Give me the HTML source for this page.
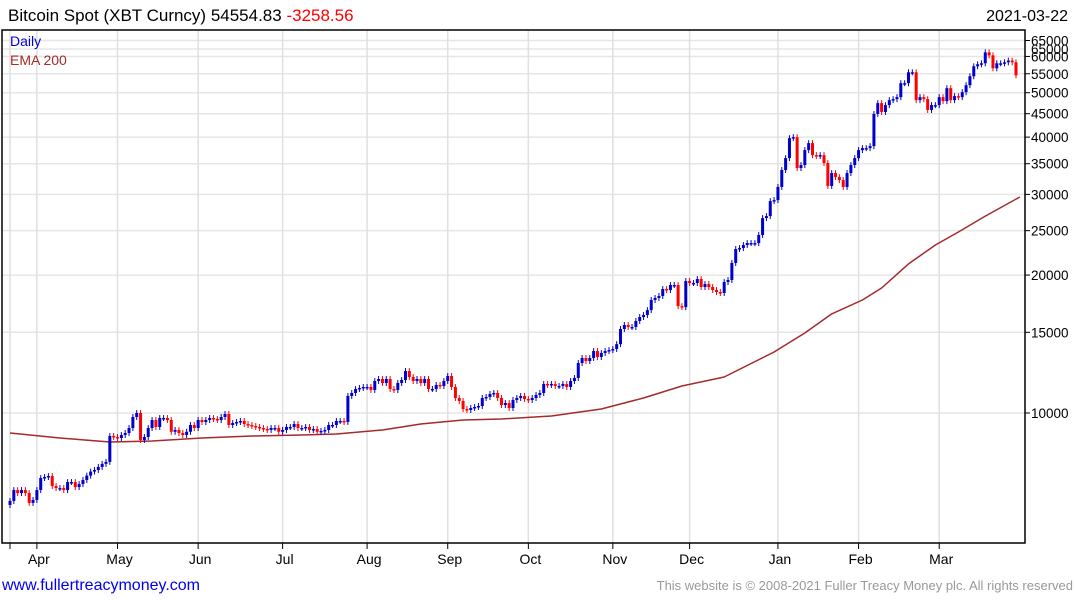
<!DOCTYPE html>
<html><head><meta charset="utf-8">
<style>
html,body{margin:0;padding:0;background:#fff;}
body{width:1075px;height:600px;overflow:hidden;position:relative;font-family:"Liberation Sans",sans-serif;}
svg{position:absolute;left:0;top:0;}
</style></head>
<body>
<svg id="chart" width="1075" height="600">
  <text x="8" y="21" font-size="17" fill="#000">Bitcoin Spot (XBT Curncy) 54554.83 <tspan fill="#ff0000">-3258.56</tspan></text>
  <text x="1068" y="21" font-size="16" fill="#000" text-anchor="end">2021-03-22</text>
  <g id="grid"></g>
  <g id="ema"></g>
  <g id="candles"></g>
  <rect x="2" y="30" width="1023" height="513" fill="none" stroke="#000" stroke-width="1.5"/>
  <g id="axes"></g>
  <text x="10" y="46" font-size="14" fill="#0000dd">Daily</text>
  <text x="10" y="65" font-size="14" fill="#a52a2a">EMA 200</text>
  <a><text x="2" y="590" font-size="16" fill="#0000ee">www.fullertreacymoney.com</text></a>
  <text x="1073" y="590" font-size="13" fill="#999" text-anchor="end">This website is © 2008-2021 Fuller Treacy Money plc. All rights reserved</text>
</svg>
<script>
const closes = [6428,6789,6688,6789,6688,6364,6461,6789,7213,7250,7286,6927,6858,6858,6789,7068,7068,6892,6997,7140,7300,7450,7509,7625,7744,7822,8910,8864,8820,8953,9043,9274,9801,10000,8730,8864,9274,9654,9321,9752,9752,9654,9100,9182,9043,8953,9100,9415,9274,9654,9558,9654,9752,9703,9654,9801,9950,9415,9510,9558,9606,9462,9415,
9368,9321,9274,9228,9182,9274,9274,9100,9182,9321,9321,9462,9274,9274,9321,9182,9228,9100,9140,9182,9415,9415,9606,9606,9560,10893,11058,11283,11340,11397,11397,11228,11745,11864,11628,11864,11283,11228,11628,11804,12348,11983,11745,11864,11628,11864,11283,11283,11512,11454,11745,12043,11397,10784,10622,10202,10152,10254,10306,10358,10784,10839,11003,11058,10784,10410,10515,10254,10676,10784,10893,10730,10676,10784,10948,11058,11570,11512,
11570,11454,11454,11570,11397,11745,11924,12855,13185,12984,13185,13654,13251,13518,13654,13723,13792,14136,15253,15562,15407,15407,15878,16200,16363,16771,17647,17825,18004,18646,18552,19026,19026,17110,17024,19411,19217,19217,19606,18835,19121,18835,18552,18368,18276,19314,19508,21257,22793,22908,23257,23491,23491,23491,24462,
26634,26902,29002,29148,31139,33906,35999,39799,39999,34248,34764,37475,38812,36544,36361,36544,35114,31296,33390,32727,32233,31139,33390,34764,35999,37475,37853,37853,38233,44943,47456,45397,46983,48174,48417,48904,52455,52455,55410,55410,48174,48904,48417,45854,46983,46983,48904,47933,51157,48174,49151,48904,50143,51932,54312,57104,57679,57969,61240,60325,56535,57969,57969,58261,58760,58261,54554];
const firstOpen = 6300;
const emaIndex = [0,13,26,37,50,63,76,85,97,107,118,128,141,154,165,175,186,199,207,214,222,227,234,241,247,254,263];
const emaValues = [9043,8820,8643,8687,8820,8910,8953,9000,9182,9462,9654,9703,9850,10203,10784,11454,11983,13585,14950,16450,17647,18740,21150,23257,24830,26900,29600];
const yTicks = [10000,15000,20000,25000,30000,35000,40000,45000,50000,55000,60000,65000];
const monthLabels = ["Apr","May","Jun","Jul","Aug","Sep","Oct","Nov","Dec","Jan","Feb","Mar"];
const monthStartIndex = [7,28,49,71,93,114,135,157,177,200,221,242];

const NS="http://www.w3.org/2000/svg";
const X0=10, X1=1016;
const step=(X1-X0)/(closes.length-1);
function xs(i){return X0+i*step;}
function ys(v){return 413-199*Math.log(v/10000);}
function mk(tag,attrs,parent){const e=document.createElementNS(NS,tag);for(const k in attrs)e.setAttribute(k,attrs[k]);parent.appendChild(e);return e;}
const grid=document.getElementById('grid'), axes=document.getElementById('axes');
const cg=document.getElementById('candles'), eg=document.getElementById('ema');

yTicks.forEach(v=>{
  const y=ys(v);
  const l=mk('line',{x1:2,x2:1025,y1:y,y2:y,stroke:'#e6e6e6','stroke-width':1.5},grid);
  
  
  const t=mk('line',{x1:1025,x2:1030,y1:y,y2:y,stroke:'#000','stroke-width':1},axes);
  
  
  const tx=mk('text',{x:1031,y:y+5,'font-size':13.5,fill:'#000'},axes);
  tx.textContent=v;
  
  
});
{const y=49;
 const tx=mk('text',{x:1031,y:y+5,'font-size':13.5,fill:'#000'},axes);
 tx.textContent='65000';
 
 
 const l=mk('line',{x1:2,x2:1025,y1:y,y2:y,stroke:'#e6e6e6','stroke-width':1.5},grid);
 
 }

{const l=mk('line',{x1:X0,x2:X0,y1:30,y2:543,stroke:'#e0e0e0','stroke-width':1.5},grid);
 
 
 const t=mk('line',{x1:X0,x2:X0,y1:543,y2:549,stroke:'#000'},axes);
 
 }
monthLabels.forEach((m,k)=>{
  const x=xs(monthStartIndex[k]);
  const l=mk('line',{x1:x,x2:x,y1:30,y2:543,stroke:'#e0e0e0','stroke-width':1.5},grid);
  
  
  const t=mk('line',{x1:x,x2:x,y1:543,y2:549,stroke:'#000'},axes);
  
  
  const tx=mk('text',{x:x+2,y:564,'font-size':14,fill:'#000','text-anchor':'middle'},axes);
  tx.textContent=m;
  
  
});

const pts=emaIndex.map((i,k)=>xs(i).toFixed(1)+','+ys(emaValues[k]).toFixed(1)).join(' ');
const pl=mk('polyline',{points:pts,fill:'none',stroke:'#a52a2a','stroke-width':1.5,'stroke-linejoin':'round'},eg);



closes.forEach((c,i)=>{
  const o=i===0?firstOpen:closes[i-1];
  const up=c>=o;
  const col=up?'#0000cc':'#ff0000';
  const hi=Math.max(o,c)*1.015, lo=Math.min(o,c)*0.985;
  const x=xs(i);
  const w=mk('line',{x1:x,x2:x,y1:ys(hi),y2:ys(lo),stroke:col,'stroke-width':1},cg);
  
  
  const yt=ys(Math.max(o,c)), yb=ys(Math.min(o,c));
  const r=mk('rect',{x:x-1.5,y:yt,width:3,height:Math.max(1.5,yb-yt),fill:col},cg);
  
  
});
</script>
</body></html>
